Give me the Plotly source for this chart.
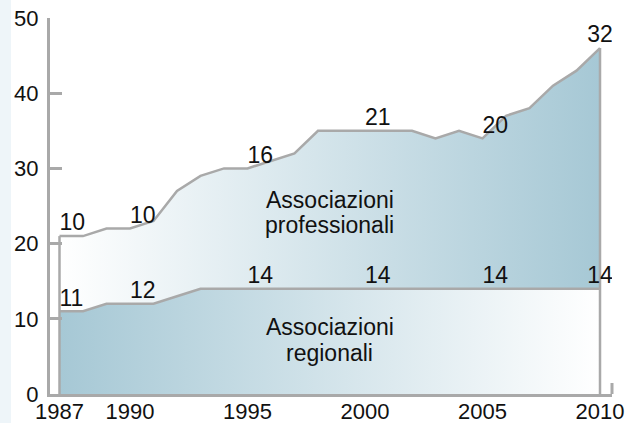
import plotly.graph_objects as go

years = list(range(1987, 2011))
regionali = [11, 11, 12, 12, 12, 13, 14, 14, 14, 14, 14, 14, 14, 14, 14, 14, 14, 14, 14, 14, 14, 14, 14, 14]
professionali = [10, 10, 10, 10, 11, 14, 15, 16, 16, 17, 18, 21, 21, 21, 21, 21, 20, 21, 20, 23, 24, 27, 29, 32]
label_years = [1987, 1990, 1995, 2000, 2005, 2010]
x_ticks = [1987, 1990, 1995, 2000, 2005, 2010]
y_ticks = [0, 10, 20, 30, 40, 50]

totale = [r + p for r, p in zip(regionali, professionali)]

GRAY = "#a9a9a9"
BLUE = "#a6c8d5"
FONT = "Liberation Sans, Arial, Helvetica, sans-serif"
FS = 23
TFS = 22

fig = go.Figure()

fig.add_trace(go.Scatter(
    x=years, y=regionali, mode="lines", fill="tozeroy",
    line=dict(color=GRAY, width=2.5),
    fillgradient=dict(type="horizontal", colorscale=[[0, BLUE], [1, "#ffffff"]]),
    hoverinfo="skip", showlegend=False))

fig.add_trace(go.Scatter(
    x=years, y=totale, mode="lines", fill="tonexty",
    line=dict(color=GRAY, width=2.5),
    fillgradient=dict(type="horizontal", colorscale=[[0, "#ffffff"], [1, BLUE]]),
    hoverinfo="skip", showlegend=False))

# vertical edges of the areas
fig.add_trace(go.Scatter(
    x=[years[0], years[0], None, years[-1], years[-1]],
    y=[0, totale[0], None, 0, totale[-1]],
    mode="lines", line=dict(color=GRAY, width=2.5),
    hoverinfo="skip", showlegend=False))

idx = [years.index(y) for y in label_years]
pos = ["top right"] * (len(idx) - 1) + ["top center"]

fig.add_trace(go.Scatter(
    x=label_years, y=[totale[i] for i in idx],
    text=[str(professionali[i]) for i in idx],
    mode="text", textposition=pos,
    textfont=dict(family=FONT, size=FS, color="#111111"),
    hoverinfo="skip", showlegend=False))

fig.add_trace(go.Scatter(
    x=label_years, y=[regionali[i] for i in idx],
    text=[str(regionali[i]) for i in idx],
    mode="text", textposition=pos,
    textfont=dict(family=FONT, size=FS, color="#111111"),
    hoverinfo="skip", showlegend=False))

for txt, yv in [("Associazioni", 25.8), ("professionali", 22.5),
                ("Associazioni", 8.9), ("regionali", 5.4)]:
    fig.add_annotation(x=1998.5, y=yv, text=txt, showarrow=False,
                       font=dict(family=FONT, size=FS, color="#111111"))

# left light strip
fig.add_shape(type="rect", xref="paper", yref="paper",
              x0=-50 / 562, x1=-39 / 562, y0=-29 / 376, y1=(376 + 18) / 376,
              fillcolor="#eef5f9", line=dict(width=0), layer="below")
# closing tick at right end of x axis
fig.add_shape(type="line", xref="paper", yref="paper",
              x0=1, x1=1, y0=0, y1=11 / 376,
              line=dict(color=GRAY, width=3))

fig.update_layout(
    width=639, height=423,
    margin=dict(l=50, r=27, t=18, b=29),
    plot_bgcolor="white", paper_bgcolor="white",
    font=dict(family=FONT, size=FS, color="#111111"),
    xaxis=dict(range=[1986.596, 2010.51], tickvals=x_ticks, ticks="", ticklen=0,
               showline=True, linecolor=GRAY, linewidth=3, showgrid=False,
               zeroline=False, tickfont=dict(size=TFS), automargin=False,
               ticklabelstandoff=-4),
    yaxis=dict(range=[0, 50], tickvals=y_ticks, ticks="inside", ticklen=12,
               tickcolor=GRAY, tickwidth=3,
               showline=True, linecolor=GRAY, linewidth=3, showgrid=False,
               zeroline=False, tickfont=dict(size=TFS), automargin=False,
               ticklabelstandoff=4),
)

fig.write_html("out.html", config={"displayModeBar": False},
               post_script="document.body.style.margin='0px';document.body.style.overflow='hidden';")
